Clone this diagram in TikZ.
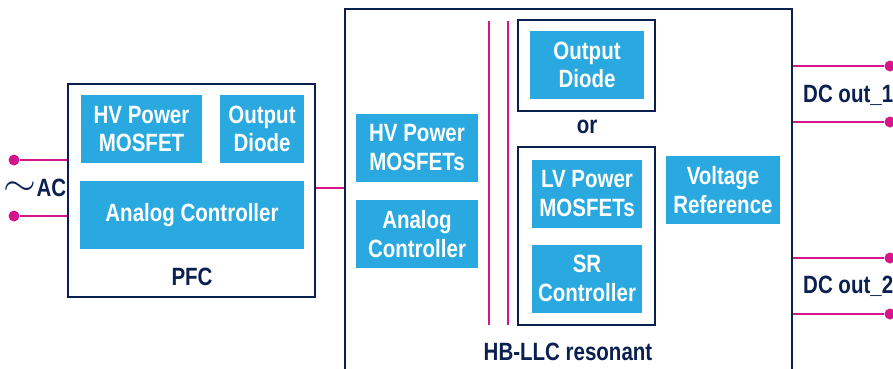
\documentclass[tikz,border=0pt]{standalone}
\usepackage{graphicx}
\usepackage{fontspec}
\setmainfont{Liberation Sans}[FakeStretch=0.82]
\usetikzlibrary{positioning}
\definecolor{stblue}{HTML}{29A9E0}
\definecolor{stnavy}{HTML}{0A2050}
\definecolor{stpink}{HTML}{D6148C}

\begin{document}
\begin{tikzpicture}[
    x=1pt, y=-1pt,
    every node/.style={font=\fontsize{25}{28.5}\selectfont\bfseries, align=center, inner sep=0pt},
    blk/.style={rectangle, fill=stblue, text=white, minimum width=#1, minimum height=68pt},
    frm/.style={rectangle, draw=stnavy, line width=2.5pt},
    lbl/.style={text=stnavy},
    wire/.style={draw=stpink, line width=2pt},
    pin/.style={circle, fill=stpink, minimum size=11pt}
]
\useasboundingbox (0,0) rectangle (893,368);

% PFC stage
\node[frm, minimum width=247pt, minimum height=213pt] (pfc) at (191.5,190.5) {};
\node[blk=121pt] (hvp) at (141.5,129) {HV Power\\MOSFET};
\node[blk=84pt] (odp) at (262,129) {Output\\Diode};
\node[blk=224pt] (acp) at (192,215) {Analog Controller};
\node[lbl] (pfclbl) at (192,277) {PFC};

% AC input
\node[pin] (ac1) at (14,160) {};
\node[pin] (ac2) at (14,216) {};
\node[lbl] (ac) at (35,188) {\raisebox{1pt}{\scalebox{1.7}[1.5]{$\sim$}}AC};
\draw[wire] (ac1) -- (ac1 -| pfc.west);
\draw[wire] (ac2) -- (ac2 -| pfc.west);

% HB-LLC stage
\node[frm, minimum width=447pt, minimum height=371pt] (llc) at (568.5,194.5) {};
\node[blk=122pt] (hvl) at (417,147.5) {HV Power\\MOSFETs};
\node[blk=122pt] (acl) at (417,234) {Analog\\Controller};
\draw[wire] (489,21) -- (489,325);
\draw[wire] (508,21) -- (508,325);
\node[frm, minimum width=137pt, minimum height=91pt] (odfrm) at (586.5,65.5) {};
\node[blk=114pt] (odl) at (587,65) {Output\\Diode};
\node[lbl] (or) at (587,127) {or};
\node[frm, minimum width=137pt, minimum height=178pt] (srfrm) at (586.5,236) {};
\node[blk=110pt] (lvl) at (587,193.5) {LV Power\\MOSFETs};
\node[blk=110pt] (src) at (587,278.5) {SR\\Controller};
\node[blk=114pt] (vref) at (723,190) {Voltage\\Reference};
\node[lbl] (llclbl) at (568,352) {HB-LLC resonant};

\coordinate (bus) at (330,188);
\draw[wire] (bus -| pfc.east) -- (bus -| llc.west);

% DC outputs
\node[pin] (o1) at (890,66) {};
\node[pin] (o2) at (890,122) {};
\node[pin] (o3) at (890,258) {};
\node[pin] (o4) at (890,314) {};
\foreach \p in {o1,o2,o3,o4}
    \draw[wire] (\p -| llc.east) -- (\p);
\node[lbl, anchor=west] (dc1) at (803,95) {DC out\_1};
\node[lbl, anchor=west] (dc2) at (803,286) {DC out\_2};
\end{tikzpicture}
\end{document}
